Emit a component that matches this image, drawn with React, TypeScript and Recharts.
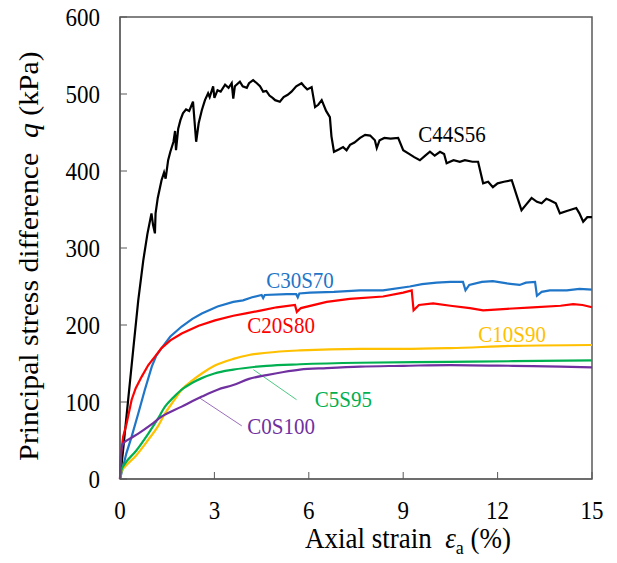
import {
  Line,
  LineChart,
  ReferenceArea,
  ReferenceDot,
  ReferenceLine,
  XAxis,
  YAxis,
} from "recharts";

// Triaxial test curves: axial strain (%) vs principal stress difference q (kPa)
const xTicks = [0, 3, 6, 9, 12, 15];
const yTicks = [0, 100, 200, 300, 400, 500, 600];

const c44s56: [number, number][] = [
  [0, 0], [0.1, 38], [0.26, 103], [0.42, 168], [0.58, 232], [0.74, 284],
  [0.87, 318], [1.0, 345], [1.05, 330], [1.11, 319], [1.13, 345], [1.2, 365],
  [1.32, 388], [1.4, 398], [1.45, 390], [1.53, 414], [1.6, 425], [1.7, 438],
  [1.75, 452], [1.78, 427], [1.85, 455], [1.92, 466], [2.0, 475], [2.1, 480],
  [2.2, 478], [2.32, 490], [2.42, 438], [2.5, 462], [2.6, 479], [2.7, 492],
  [2.8, 501], [2.85, 496], [2.96, 510], [3.0, 495], [3.1, 505], [3.2, 503],
  [3.34, 512], [3.45, 508], [3.55, 514], [3.6, 494], [3.65, 510], [3.81, 516],
  [3.9, 510], [4.03, 508], [4.1, 514], [4.23, 518], [4.35, 514], [4.45, 510],
  [4.55, 503], [4.65, 504], [4.75, 498], [4.85, 495], [4.93, 492], [5.08, 490],
  [5.2, 496], [5.33, 499], [5.45, 503], [5.6, 510], [5.77, 514], [5.85, 510],
  [5.95, 506], [6.09, 509], [6.2, 483], [6.3, 486], [6.41, 492], [6.55, 478],
  [6.67, 470], [6.72, 445], [6.8, 425], [6.95, 428], [7.09, 431], [7.2, 427],
  [7.31, 434], [7.45, 437], [7.63, 443], [7.79, 447], [7.95, 446], [8.1, 440],
  [8.16, 430], [8.25, 440], [8.4, 443], [8.6, 442], [8.84, 443], [9.0, 427],
  [9.2, 422], [9.35, 418], [9.53, 414], [9.7, 420], [9.85, 425], [10.0, 420],
  [10.17, 425], [10.3, 422], [10.38, 410], [10.6, 414], [10.8, 412], [10.96, 414],
  [11.2, 412], [11.38, 412], [11.54, 384], [11.7, 386], [11.85, 379], [12.0, 384],
  [12.2, 386], [12.45, 388], [12.6, 369], [12.76, 349], [12.9, 356], [13.08, 365],
  [13.25, 360], [13.4, 358], [13.55, 364], [13.66, 362], [13.85, 358], [13.98, 345],
  [14.2, 348], [14.5, 352], [14.6, 345], [14.72, 334], [14.85, 340], [15, 340],
];

const c30s70: [number, number][] = [
  [0, 0], [0.1, 16], [0.2, 33], [0.37, 55], [0.58, 85], [0.79, 116], [1.01, 146],
  [1.15, 160], [1.32, 170], [1.6, 185], [1.96, 198], [2.3, 208], [2.6, 215],
  [3.1, 224], [3.6, 230], [3.91, 232], [4.2, 236], [4.5, 239], [4.55, 235],
  [4.6, 239], [5.3, 240], [5.6, 240], [5.65, 236], [5.7, 241], [6.04, 242],
  [6.8, 243], [7.63, 245], [8.36, 245], [9.21, 250], [9.6, 253], [10.06, 255],
  [10.5, 256], [10.9, 256], [10.98, 245], [11.1, 252], [11.5, 256], [11.85, 257],
  [12.3, 254], [12.7, 252], [12.9, 255], [13.19, 256], [13.25, 238], [13.4, 243],
  [13.66, 245], [14.2, 245], [14.6, 247], [15, 246],
];

const c20s80: [number, number][] = [
  [0, 0], [0.04, 35], [0.1, 55], [0.21, 72], [0.37, 103], [0.5, 118], [0.69, 133],
  [0.9, 148], [1.11, 159], [1.32, 170], [1.6, 180], [1.96, 189], [2.5, 199],
  [3.02, 206], [3.6, 212], [4.0, 215], [4.5, 219], [4.98, 223], [5.56, 226],
  [5.62, 217], [5.75, 222], [6.57, 230], [7.3, 234], [8.36, 237], [9.0, 242],
  [9.27, 245], [9.33, 219], [9.5, 226], [9.95, 228], [10.5, 225], [11.12, 222],
  [11.54, 219], [12.3, 221], [13.12, 223], [14.0, 225], [14.4, 227], [14.7, 226],
  [15, 223],
];

const c10s90: [number, number][] = [
  [0, 0], [0.05, 10], [0.16, 16], [0.5, 30], [0.9, 51], [1.2, 68], [1.43, 85],
  [1.7, 101], [1.96, 116], [2.3, 128], [2.6, 137], [3.0, 147], [3.6, 156],
  [4.1, 161], [4.66, 164], [5.72, 167], [7.63, 169], [9.0, 169], [10.49, 170],
  [12.6, 173], [15, 174],
];

const c5s95: [number, number][] = [
  [0, 0], [0.05, 12], [0.16, 20], [0.5, 36], [0.9, 59], [1.2, 78], [1.43, 94],
  [1.7, 106], [1.96, 116], [2.3, 125], [2.6, 131], [3.0, 137], [3.6, 142],
  [4.66, 147], [5.72, 149], [7.63, 151], [10.49, 152], [12.5, 153], [15, 154],
];

const c0s100: [number, number][] = [
  [0, 0], [0.03, 32], [0.1, 46], [0.3, 52], [0.58, 59], [1.0, 71], [1.32, 81],
  [1.96, 94], [2.6, 107], [3.1, 116], [3.6, 122], [4.1, 130], [4.66, 135],
  [5.2, 139], [5.72, 142], [6.57, 144], [7.63, 146], [9.0, 147], [10.49, 148],
  [12.5, 147], [14, 146], [15, 145],
];

const series = [
  { name: "C44S56", points: c44s56, color: "#000000", smooth: false, lx: 10.55, ly: 447 },
  { name: "C30S70", points: c30s70, color: "#1f75c8", smooth: false, lx: 5.72, ly: 257 },
  { name: "C20S80", points: c20s80, color: "#ff0000", smooth: false, lx: 5.12, ly: 199 },
  { name: "C10S90", points: c10s90, color: "#ffc000", smooth: true, lx: 12.46, ly: 187 },
  { name: "C5S95", points: c5s95, color: "#00b050", smooth: true, lx: 7.1, ly: 103 },
  { name: "C0S100", points: c0s100, color: "#7030a0", smooth: true, lx: 5.12, ly: 68 },
];

// leader lines from curve to label
const leaders = [
  { color: "#00b050", from: [4.24, 142], to: [5.61, 103] },
  { color: "#7030a0", from: [2.54, 105], to: [3.87, 69] },
];

const FONT = "Liberation Serif";
const FRAME = "#595959";
// the source figure is stretched ~10% vertically
const STRETCH = 1.1;

function SeriesLabel({ cx, cy, text, color }: any) {
  if (cx == null || cy == null) return <g />;
  return (
    <text
      transform={`translate(${cx}, ${cy + 7}) scale(1, ${STRETCH})`}
      textAnchor="middle"
      fill={color}
      fontFamily={FONT}
      fontSize={21}
    >
      {text}
    </text>
  );
}

// y tick: label right-aligned 20px left of the axis, tick mark drawn inward
function YTick({ x, y, payload }: any) {
  return (
    <g>
      <line x1={x + 20} x2={x + 27} y1={y} y2={y} stroke={FRAME} strokeWidth={1} />
      <text
        transform={`translate(${x}, ${y + 8.5}) scale(1, ${STRETCH})`}
        textAnchor="end"
        fill="#000"
        fontFamily={FONT}
        fontSize={23}
      >
        {payload.value}
      </text>
    </g>
  );
}

// x tick: label below the axis, tick mark drawn inward (upward)
function XTick({ x, y, payload }: any) {
  return (
    <g>
      <line x1={x} x2={x} y1={y - 23} y2={y - 30} stroke={FRAME} strokeWidth={1} />
      <text
        transform={`translate(${x}, ${y + 16.5}) scale(1, ${STRETCH})`}
        textAnchor="middle"
        fill="#000"
        fontFamily={FONT}
        fontSize={23}
      >
        {payload.value}
      </text>
    </g>
  );
}

function YTitle() {
  return (
    <text
      transform={`translate(38, 256) rotate(-90) scale(${STRETCH}, 1)`}
      textAnchor="middle"
      fontFamily={FONT}
      fontSize={27}
      fill="#000"
      xmlSpace="preserve"
    >
      Principal stress difference{"  "}
      <tspan fontStyle="italic">q</tspan> (kPa)
    </text>
  );
}

function XTitle() {
  return (
    <text
      transform={`translate(408, 548) scale(1, ${STRETCH})`}
      textAnchor="middle"
      fontFamily={FONT}
      fontSize={27}
      fill="#000"
      xmlSpace="preserve"
    >
      Axial strain{"  "}
      <tspan fontStyle="italic">ε</tspan>
      <tspan fontSize={18} dy={5}>a</tspan>
      <tspan dy={-5}> (%)</tspan>
    </text>
  );
}

export default function App() {
  return (
    <div style={{ position: "absolute", left: 0, top: 0, background: "#fff" }}>
      <LineChart
        width={617}
        height={563}
        margin={{ top: 17, right: 25, bottom: 0, left: 0 }}
      >
        <XAxis
          type="number"
          dataKey="x"
          domain={[0, 15]}
          ticks={xTicks}
          height={84}
          tickSize={0}
          tickMargin={23}
          tickLine={false}
          stroke={FRAME}
          tick={<XTick />}
          label={<XTitle />}
          allowDuplicatedCategory={false}
        />
        <YAxis
          type="number"
          domain={[0, 600]}
          ticks={yTicks}
          width={120}
          tickSize={0}
          tickMargin={20}
          tickLine={false}
          stroke={FRAME}
          tick={<YTick />}
          label={<YTitle />}
        />
        <ReferenceArea
          x1={0}
          x2={15}
          y1={0}
          y2={600}
          fill="none"
          fillOpacity={0}
          stroke={FRAME}
          strokeWidth={1.5}
        />
        {leaders.map((l, i) => (
          <ReferenceLine
            key={i}
            segment={[
              { x: l.from[0], y: l.from[1] },
              { x: l.to[0], y: l.to[1] },
            ]}
            stroke={l.color}
            strokeOpacity={0.7}
            strokeWidth={1}
          />
        ))}
        {series.map((s) => (
          <Line
            key={s.name}
            data={s.points.map(([x, y]) => ({ x, y }))}
            dataKey="y"
            type={s.smooth ? "monotone" : "linear"}
            stroke={s.color}
            strokeWidth={2.2}
            dot={false}
            isAnimationActive={false}
          />
        ))}
        {series.map((s) => (
          <ReferenceDot
            key={s.name + "-label"}
            x={s.lx}
            y={s.ly}
            shape={<SeriesLabel text={s.name} color={s.color} />}
          />
        ))}
      </LineChart>
    </div>
  );
}
